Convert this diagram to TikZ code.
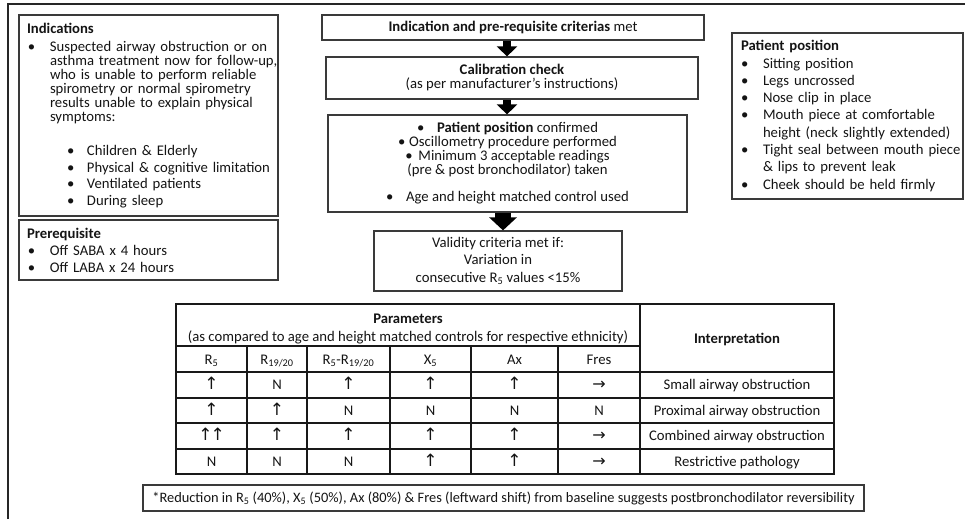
\documentclass[tikz,border=0pt]{standalone}
\usepackage{fontspec}
\setmainfont{Carlito}
\newfontfamily\arfont{DejaVu Sans}
\usetikzlibrary{arrows.meta}
\definecolor{boxgray}{HTML}{3A3A3A}
\definecolor{txt}{HTML}{141414}
\newcommand{\arU}{{\arfont\fontsize{17}{17}\selectfont ↑}}
\newcommand{\arR}{{\arfont\fontsize{16}{17}\selectfont →}}
\newcommand{\bul}[1]{\makebox[#1][l]{•}}
\newcommand{\tabrow}[9]{%
  \node[cell] (r#1a) at (211.5,#2) {#3};
  \node[cell] (r#1b) at (277,#2) {#4};
  \node[cell] (r#1c) at (348.5,#2) {#5};
  \node[cell] (r#1d) at (430.5,#2) {#6};
  \node[cell] (r#1e) at (514.5,#2) {#7};
  \node[cell] (r#1f) at (599,#2) {#8};
  \node[cell] (r#1g) at (737,#2) {#9};}
\begin{document}
\begin{tikzpicture}[x=1pt,y=-1pt,
  box/.style={draw=boxgray, line width=1.2pt, inner sep=0pt, text=txt,
    font=\fontsize{14.7}{17.4}\selectfont},
  blockarr/.style={draw=black, line cap=butt, line width=8pt,
    -{Triangle[width=20pt,length=10pt]}},
  blockarrbig/.style={draw=black, line cap=butt, line width=16pt,
    -{Triangle[width=27pt,length=13pt]}},
  tab/.style={draw=black!90, line width=1.3pt},
  cell/.style={anchor=base, inner sep=0pt, text=txt, font=\fontsize{14.7}{17.4}\selectfont},
  frame/.style={draw=black!85, line width=1.5pt}
]
\useasboundingbox (0,0) rectangle (965,519);
\draw[frame] (8,519) -- (8,4) -- (965,4);

% left boxes
\node[box, minimum width=259, minimum height=201, text width=243, inner xsep=8pt,
      align=left, font=\fontsize{14.7}{14}\selectfont] (ind) at (148.5,115.5) {%
\textbf{Indications}\\[4pt]
\mbox{\makebox[23pt][l]{\hspace{1pt}•}Suspected airway obstruction or on}\\
\mbox{\hspace*{23pt}asthma treatment now for follow-up,}\\
\mbox{\hspace*{23pt}who is unable to perform reliable}\\
\mbox{\hspace*{23pt}spirometry or normal spirometry}\\
\mbox{\hspace*{23pt}results unable to explain physical}\\
\mbox{\hspace*{23pt}symptoms:}\\[20pt]
\mbox{\hspace*{40pt}\bul{20pt}Children \& Elderly}\\[2.5pt]
\mbox{\hspace*{40pt}\bul{20pt}Physical \& cognitive limitation}\\[2.5pt]
\mbox{\hspace*{40pt}\bul{20pt}Ventilated patients}\\[2.5pt]
\mbox{\hspace*{40pt}\bul{20pt}During sleep}};

\node[box, minimum width=259, minimum height=60, text width=243, inner xsep=8pt,
      align=left, font=\fontsize{14.7}{17}\selectfont] (pre) at (148.5,250) {%
\textbf{Prerequisite}\\
\mbox{\makebox[23pt][l]{\hspace{1pt}•}Off SABA x 4 hours}\\
\mbox{\makebox[23pt][l]{\hspace{1pt}•}Off LABA x 24 hours}};

% right box
\node[box, minimum width=231, minimum height=166, text width=213, inner xsep=9pt,
      align=left, font=\fontsize{14.7}{17.3}\selectfont] (pp) at (847.5,116) {%
\textbf{Patient position}\\
\mbox{\bul{22pt}Sitting position}\\
\mbox{\bul{22pt}Legs uncrossed}\\
\mbox{\bul{22pt}Nose clip in place}\\
\mbox{\bul{22pt}Mouth piece at comfortable}\\
\mbox{\hspace*{22pt}height (neck slightly extended)}\\
\mbox{\bul{22pt}Tight seal between mouth piece}\\
\mbox{\hspace*{22pt}\& lips to prevent leak}\\
\mbox{\bul{22pt}Cheek should be held firmly}};

% centre flow
\node[box, minimum width=382, minimum height=25, align=center] (b1) at (513,27.5)
  {\textbf{Indication and pre-requisite criterias} met};
\node[box, minimum width=372, minimum height=42, align=center,
      font=\fontsize{14.7}{14}\selectfont] (b2) at (512,78)
  {\textbf{Calibration check}\\(as per manufacturer’s instructions)};
\node[box, minimum width=359, minimum height=97, align=center,
      font=\fontsize{14.7}{14}\selectfont] (b3) at (507.5,163.5)
  {\bul{20pt}\textbf{Patient position} confirmed\\
   \bul{11pt}Oscillometry procedure performed\\
   \bul{13pt}Minimum 3 acceptable readings\\
   (pre \& post bronchodilator) taken\\[13pt]
   \bul{20pt}Age and height matched control used};
\node[box, minimum width=248, minimum height=60, align=center,
      font=\fontsize{14.7}{17.5}\selectfont] (b4) at (498,261)
  {Validity criteria met if:\\Variation in\\consecutive R\textsubscript{5} values <15\%};

\coordinate (ax) at (507,0);
\coordinate (axb) at (503,0);
\draw[blockarr] (b1.south -| ax) -- (b2.north -| ax);
\draw[blockarr] (b2.south -| ax) -- (b3.north -| ax);
\draw[blockarrbig] (b3.south -| axb) -- (b4.north -| axb);

% table
\draw[tab] (176,304) rectangle (834,474);
\draw[tab] (176,346) -- (640,346);
\foreach \yy in {372,398,423,449} \draw[tab] (176,\yy) -- (834,\yy);
\draw[tab] (640,304) -- (640,474);
\foreach \xx in {247,307,390,471,558} \draw[tab] (\xx,346) -- (\xx,474);

\node[cell] (tpar) at (408,323) {\textbf{Parameters}};
\node[cell] (tcmp) at (408,341) {(as compared to age and height matched controls for respective ethnicity)};
\node[cell] (tint) at (737,343) {\textbf{Interpretation}};
\node[cell] (h1) at (211.5,364.5) {R\textsubscript{5}};
\node[cell] (h2) at (277,364.5) {R\textsubscript{19/20}};
\node[cell] (h3) at (348.5,364.5) {R\textsubscript{5}-R\textsubscript{19/20}};
\node[cell] (h4) at (430.5,364.5) {X\textsubscript{5}};
\node[cell] (h5) at (514.5,364.5) {Ax};
\node[cell] (h6) at (599,364.5) {Fres};

\tabrow{1}{389.5}{\arU}{N}{\arU}{\arU}{\arU}{\arR}{Small airway obstruction}
\tabrow{2}{415}{\arU}{\arU}{N}{N}{N}{N}{Proximal airway obstruction}
\tabrow{3}{440.5}{\arU\kern-2pt\arU}{\arU}{\arU}{\arU}{\arU}{\arR}{Combined airway obstruction}
\tabrow{4}{466}{N}{N}{N}{\arU}{\arU}{\arR}{Restrictive pathology}

\node[box, minimum width=721, minimum height=26, font=\fontsize{14.4}{17}\selectfont] (fn) at (503.5,498)
  {*Reduction in R\textsubscript{5} (40\%), X\textsubscript{5} (50\%), Ax (80\%) \& Fres (leftward shift) from baseline suggests postbronchodilator reversibility};
\end{tikzpicture}
\end{document}
